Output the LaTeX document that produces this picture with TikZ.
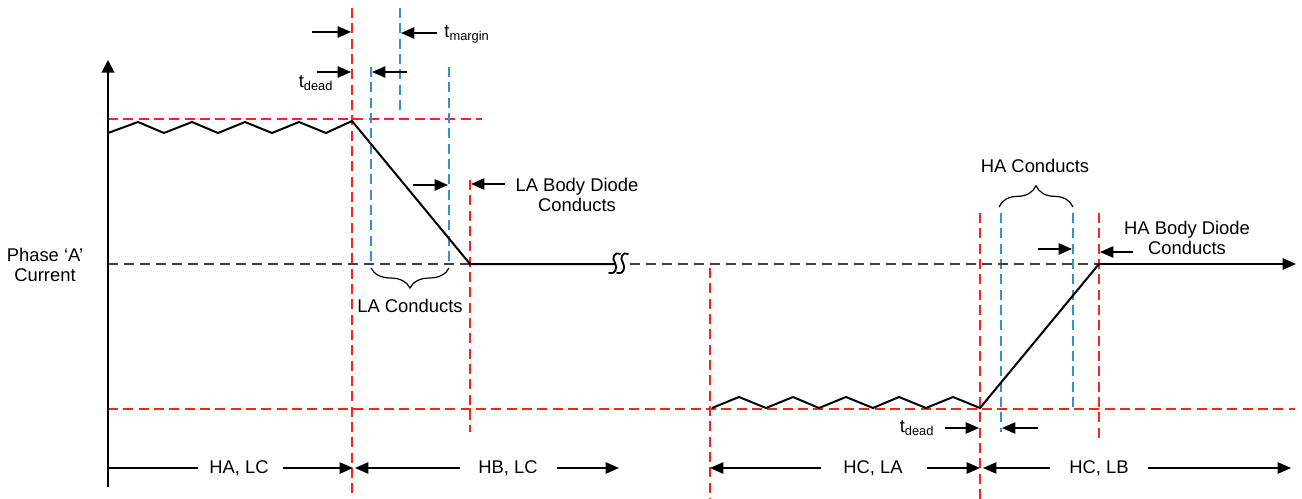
\documentclass[tikz,border=0pt]{standalone}
\usepackage{fontspec}
\setmainfont{Liberation Sans}
\usetikzlibrary{arrows.meta,decorations.pathreplacing}
\definecolor{rd}{HTML}{FF2020}
\definecolor{bl}{HTML}{3A8FD0}
\definecolor{gr}{HTML}{404040}
\tikzset{
 rdash/.style={draw=rd, line width=1.1pt, dash pattern=on 7.5pt off 4pt},
 bdash/.style={draw=bl, line width=1.1pt, dash pattern=on 7.5pt off 4pt},
 zdash/.style={draw=gr, line width=1.2pt, dash pattern=on 7.5pt off 4.5pt},
 wave/.style={draw=black, line width=1.5pt, line join=miter},
 arr/.style={draw=black, line width=1.1pt, -{Triangle[length=10pt,width=8.5pt]}},
 plain/.style={draw=black, line width=1.1pt},
 lbl/.style={font=\fontsize{13.8}{15.5}\selectfont, inner sep=0pt, align=center},
 brc/.style={draw=black, line width=0.9pt, decorate},
 brkmark/.style={draw=black, line width=1.4pt, line cap=round},
}
\begin{document}
\begin{tikzpicture}[x=0.75pt,y=-0.75pt]
\useasboundingbox (0,0) rectangle (1302,499);
% ---- guide lines
\draw[rdash] (108,119) -- (482,119);
\draw[rdash] (108,409) -- (1295,409);
\draw[rdash] (352,8) -- (352,499);
\draw[rdash] (470,180) -- (470,432);
\draw[rdash] (710,268) -- (710,499);
\draw[rdash] (980,213) -- (980,499);
\draw[rdash] (1099,213) -- (1099,440);
\draw[bdash] (400,8) -- (400,114);
\draw[bdash] (371,67) -- (371,264);
\draw[bdash] (449,67) -- (449,264);
\draw[bdash] (1001,213) -- (1001,432);
\draw[bdash] (1073,213) -- (1073,410);
% ---- zero line
\draw[zdash] (108,264) -- (470,264);
\draw[zdash] (630,264) -- (1099,264);
% ---- axis
\coordinate (axbot) at (108,487);
\coordinate (axtop) at (108,60);
\draw[line width=1.5pt, -{Triangle[length=9.5pt,width=9.5pt]}] (axbot) -- (axtop);
% ---- waveform
\coordinate (p0) at (352,121);
\coordinate (z1) at (470,264);
\coordinate (brk) at (615,264);
\coordinate (z2) at (1099,264);
\coordinate (zend) at (1296,264);
\coordinate (q0) at (980,408);
\draw[wave] (108,133) -- (138,122) -- (164,133) -- (192,122) -- (218,133) -- (245,122)
  -- (272,133) -- (299,122) -- (326,133) -- (p0) -- (z1) -- (brk);
\draw[wave] (712,408) -- (739,397) -- (766,408) -- (793,397) -- (819,408) -- (846,397)
  -- (873,408) -- (899,397) -- (926,408) -- (953,397) -- (q0) -- (z2);
\draw[wave, -{Triangle[length=10pt,width=8.5pt]}] (z2) -- (zend);
% break mark
\draw[brkmark] (620,254) .. controls (615,251) and (611,258) .. (615,263)
  .. controls (618,268) and (615,275) .. (609,273);
\draw[brkmark] (628,254) .. controls (623,251) and (619,258) .. (623,263)
  .. controls (626,268) and (623,275) .. (617,273);
% ---- labels
\node[lbl] (phase) at (45,265) {Phase ‘A’\\Current};
\node[lbl] (ladiode) at (577,195) {LA Body Diode\\Conducts};
\node[lbl] (laconducts) at (410,306) {LA Conducts};
\node[lbl] (haconducts) at (1035,166) {HA Conducts};
\node[lbl] (hadiode) at (1187,238) {HA Body Diode\\Conducts};
\node[lbl] (tmargin) at (467,34) {t\textsubscript{margin}};
\node[lbl] (tdeadA) at (316,83) {t\textsubscript{dead}};
\node[lbl] (tdeadB) at (917,428) {t\textsubscript{dead}};
% ---- timing arrows (top-left)
\coordinate (a1s) at (312,32); \coordinate (a1e) at (351,32);
\coordinate (a2s) at (437,33); \coordinate (a2e) at (401,33);
\coordinate (a3s) at (317,72); \coordinate (a3e) at (351,72);
\coordinate (a4s) at (407,72); \coordinate (a4e) at (372,72);
\draw[arr] (a1s) -- (a1e);
\draw[arr] (a2s) -- (a2e);
\draw[arr] (a3s) -- (a3e);
\draw[arr] (a4s) -- (a4e);
% LA body diode arrows
\coordinate (a5s) at (413,185); \coordinate (a5e) at (448,185);
\coordinate (a6s) at (505,184); \coordinate (a6e) at (471,184);
\draw[arr] (a5s) -- (a5e);
\draw[arr] (a6s) -- (a6e);
% HA body diode arrows
\coordinate (a7s) at (1038,249); \coordinate (a7e) at (1072,249);
\coordinate (a8s) at (1133,252); \coordinate (a8e) at (1100,252);
\draw[arr] (a7s) -- (a7e);
\draw[arr] (a8s) -- (a8e);
% bottom t_dead arrows
\coordinate (a9s) at (945,428); \coordinate (a9e) at (979,428);
\coordinate (a10s) at (1038,428); \coordinate (a10e) at (1002,428);
\draw[arr] (a9s) -- (a9e);
\draw[arr] (a10s) -- (a10e);
% ---- braces
\draw[brc, decoration={brace, amplitude=15pt}] (449,268) -- (371,268);
\draw[brc, decoration={brace, amplitude=16pt}] (999,207) -- (1073,207);
% ---- bottom intervals
\node[lbl] (halc) at (239,468) {HA, LC};
\node[lbl] (hblc) at (508,468) {HB, LC};
\node[lbl] (hcla) at (873,468) {HC, LA};
\node[lbl] (hclb) at (1099,468) {HC, LB};
\coordinate (b0) at (108,468);
\coordinate (b1) at (198,468); \coordinate (b2) at (283,468); \coordinate (b3) at (353,468);
\coordinate (b4) at (460,468); \coordinate (b5) at (355,468);
\coordinate (b6) at (557,468); \coordinate (b7) at (619,468);
\coordinate (b8) at (821,468); \coordinate (b9) at (710,468);
\coordinate (b10) at (927,468); \coordinate (b11) at (980,468);
\coordinate (b12) at (1050,468); \coordinate (b13) at (983,468);
\coordinate (b14) at (1148,468); \coordinate (b15) at (1291,468);
\draw[plain] (b0) -- (b1);
\draw[arr] (b2) -- (b3);
\draw[arr] (b4) -- (b5);
\draw[arr] (b6) -- (b7);
\draw[arr] (b8) -- (b9);
\draw[arr] (b10) -- (b11);
\draw[arr] (b12) -- (b13);
\draw[arr] (b14) -- (b15);
\end{tikzpicture}
\end{document}
